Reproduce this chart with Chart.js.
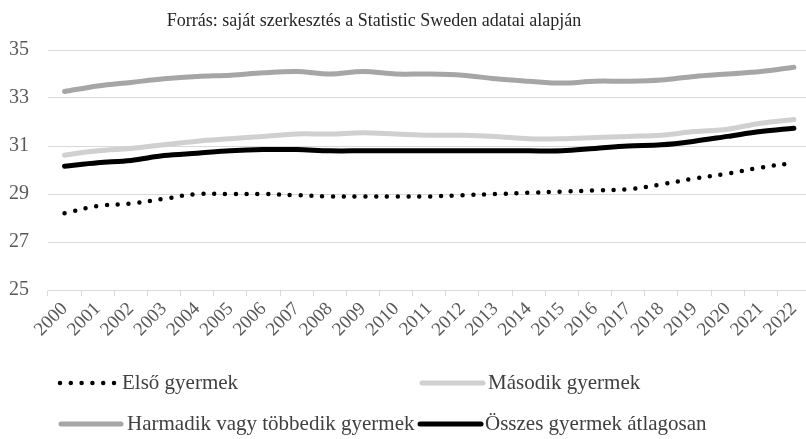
<!DOCTYPE html>
<html>
<head>
<meta charset="utf-8">
<script src="https://cdn.jsdelivr.net/npm/chart.js"></script>
<style>
  html, body { margin: 0; padding: 0; background: #fff; overflow: hidden; }
  #wrap { width: 812px; height: 439px; }
</style>
</head>
<body>
<div id="wrap"><canvas id="chart" width="812" height="439"></canvas></div>
<script>
const years = ["2000", "2001", "2002", "2003", "2004", "2005", "2006", "2007", "2008", "2009", "2010",
  "2011", "2012", "2013", "2014", "2015", "2016", "2017", "2018", "2019", "2020", "2021", "2022"];

const elso = [28.2, 28.5, 28.6, 28.8, 29.0, 29.0, 29.0, 28.95, 28.9, 28.9, 28.9, 28.9,
  28.95, 29.0, 29.05, 29.1, 29.15, 29.2, 29.4, 29.65, 29.85, 30.1, 30.3];
const masodik = [30.62, 30.8, 30.9, 31.05, 31.2, 31.3, 31.4, 31.5, 31.5, 31.55, 31.5, 31.45,
  31.45, 31.4, 31.3, 31.3, 31.35, 31.4, 31.45, 31.6, 31.7, 31.95, 32.1];
const harmadik = [33.27, 33.5, 33.65, 33.8, 33.9, 33.95, 34.05, 34.1, 34.0, 34.1, 34.0, 34.0,
  33.95, 33.8, 33.7, 33.62, 33.7, 33.7, 33.75, 33.9, 34.0, 34.1, 34.28];
const osszes = [30.16, 30.3, 30.4, 30.6, 30.7, 30.8, 30.85, 30.85, 30.8, 30.8, 30.8, 30.8,
  30.8, 30.8, 30.8, 30.8, 30.9, 31.0, 31.05, 31.2, 31.4, 31.6, 31.74];

const yTicks = [25, 27, 29, 31, 33, 35];
const titleText = "Forrás: saját szerkesztés a Statistic Sweden adatai alapján";

const serif = "'Liberation Serif', 'Times New Roman', serif";

// legend slots: [sample start x, sample end x, text x, row y]
const legendSlots = [
  [60, 119, 122, 383],
  [422, 483, 488, 383],
  [61, 121, 127, 424],
  [420, 481, 485, 424],
];

const extras = {
  id: "extras",
  afterDraw(chart) {
    const ctx = chart.ctx;
    ctx.save();
    ctx.fillStyle = "#262626";
    ctx.font = "18px " + serif;
    ctx.textAlign = "center";
    ctx.textBaseline = "middle";
    ctx.fillText(titleText, 374, 21);

    chart.data.datasets.forEach((ds, i) => {
      const [x0, x1, tx, y] = legendSlots[i];
      ctx.save();
      ctx.strokeStyle = ds.borderColor;
      ctx.lineWidth = ds.borderWidth;
      ctx.lineCap = ds.borderCapStyle || "butt";
      ctx.setLineDash(ds.borderDash || []);
      ctx.beginPath();
      ctx.moveTo(x0, y);
      ctx.lineTo(x1, y);
      ctx.stroke();
      ctx.restore();
      ctx.fillStyle = "#404040";
      ctx.font = "21px " + serif;
      ctx.textAlign = "left";
      ctx.textBaseline = "middle";
      ctx.fillText(ds.label, tx, y);
    });
    ctx.restore();
  },
};

new Chart(document.getElementById("chart"), {
  type: "line",
  data: {
    labels: years,
    datasets: [
      {
        label: "Első gyermek",
        data: elso,
        borderColor: "#000000",
        borderWidth: 4.5,
        borderDash: [0, 10.8],
        borderCapStyle: "round",
      },
      {
        label: "Második gyermek",
        data: masodik,
        borderColor: "#d0d0d0",
        borderWidth: 5,
        borderCapStyle: "round",
      },
      {
        label: "Harmadik vagy többedik gyermek",
        data: harmadik,
        borderColor: "#a6a6a6",
        borderWidth: 5,
        borderCapStyle: "round",
      },
      {
        label: "Összes gyermek átlagosan",
        data: osszes,
        borderColor: "#000000",
        borderWidth: 5,
        borderCapStyle: "round",
      },
    ],
  },
  options: {
    responsive: false,
    animation: false,
    layout: { padding: { top: 50, right: 0, bottom: 0, left: 0 } },
    plugins: {
      legend: { display: false },
      tooltip: { enabled: false },
      title: { display: false },
    },
    elements: {
      point: { radius: 0 },
      line: { tension: 0.35 },
    },
    scales: {
      x: {
        offset: true,
        grid: {
          offset: true,
          drawOnChartArea: false,
          drawTicks: true,
          tickLength: 6,
          color: "#d9d9d9",
        },
        border: { color: "#d9d9d9" },
        ticks: {
          autoSkip: false,
          minRotation: 45,
          maxRotation: 45,
          color: "#595959",
          font: { family: serif, size: 19 },
          padding: 2,
        },
        afterFit(scale) { scale.height = 149; },
      },
      y: {
        min: 25,
        max: 35,
        afterBuildTicks(scale) { scale.ticks = yTicks.map(v => ({ value: v })); },
        grid: { color: "#d9d9d9", drawTicks: false },
        border: { display: false },
        ticks: {
          color: "#595959",
          font: { family: serif, size: 20 },
          padding: 19,
        },
        afterFit(scale) { scale.width = 48; },
      },
    },
  },
  plugins: [extras],
});
</script>
</body>
</html>
